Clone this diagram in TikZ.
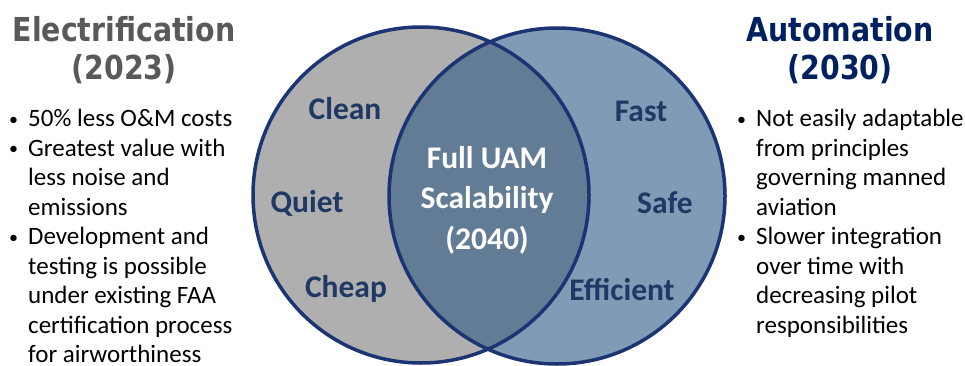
\documentclass[tikz,border=0pt]{standalone}
\usepackage{fontspec}
\setmainfont{Carlito}
\newfontfamily\titlefont[FakeStretch=0.86]{DejaVu Sans}
\usepackage{array}
\definecolor{ringblue}{HTML}{1C3473}
\definecolor{leftfill}{HTML}{AFAFAF}
\definecolor{rightfill}{HTML}{7F9BB6}
\definecolor{midfill}{HTML}{627C96}
\definecolor{navytext}{HTML}{1F3864}
\definecolor{titlegray}{HTML}{595959}
\definecolor{titlenavy}{HTML}{002060}
\newcommand{\dotmark}{\raisebox{0.15ex}{\fontsize{18}{18}\selectfont\textbullet}}
\tikzset{
  ring/.style={circle, minimum size=336pt, inner sep=0pt, outer sep=0pt},
  heading/.style={anchor=base, font=\titlefont\bfseries\fontsize{33}{36}\selectfont, inner sep=0pt},
  trait/.style={anchor=base, font=\bfseries\fontsize{31.5}{34}\selectfont, text=navytext, inner sep=0pt},
  centre/.style={anchor=base, font=\bfseries\fontsize{31.5}{34}\selectfont, text=white, inner sep=0pt},
  bullets/.style={anchor=north west, inner sep=0pt, font=\fontsize{25}{29.5}\selectfont, text=black}
}
\begin{document}
\begin{tikzpicture}[x=1pt,y=-1pt]
\useasboundingbox (0,0) rectangle (965,366);

% the two sets
\node[ring, fill=leftfill] (L) at (421,195) {};
\node[ring, fill=rightfill] (R) at (557,196) {};
\begin{scope}
  \clip (L.center) circle (168pt);
  \fill[midfill] (R.center) circle (168pt);
\end{scope}
\draw[ringblue, line width=3.5pt] (L.center) circle (168pt);
\draw[ringblue, line width=3.5pt] (R.center) circle (168pt);

% headings
\node[heading, text=titlegray] (eh) at (124,42) {Electrification};
\node[heading, text=titlegray] (ey) at (124,80) {(2023)};
\node[heading, text=titlenavy] (ah) at (840,42) {Automation};
\node[heading, text=titlenavy] (ay) at (840,80) {(2030)};

% traits of each set
\node[trait] (clean) at (345,120) {Clean};
\node[trait] (quiet) at (307,212) {Quiet};
\node[trait] (cheap) at (346,297) {Cheap};
\node[trait] (fast) at (641,122) {Fast};
\node[trait] (safe) at (665,213) {Safe};
\node[trait] (eff) at (622,300) {Efficient};

% shared centre
\node[centre] (c1) at (487,168) {Full UAM};
\node[centre] (c2) at (487,208) {Scalability};
\node[centre] (c3) at (487,249) {(2040)};

% bullet lists
\node[bullets] (elist) at (9,106) {%
\begin{tabular}{@{}p{19pt}@{}l@{}}
\dotmark & 50\% less O\&M costs\\
\dotmark & Greatest value with\\
 & less noise and\\
 & emissions\\
\dotmark & Development and\\
 & testing is possible\\
 & under existing FAA\\
 & certification process\\
 & for airworthiness
\end{tabular}};
\node[bullets] (alist) at (737,106) {%
\begin{tabular}{@{}p{19pt}@{}l@{}}
\dotmark & Not easily adaptable\\
 & from principles\\
 & governing manned\\
 & aviation\\
\dotmark & Slower integration\\
 & over time with\\
 & decreasing pilot\\
 & responsibilities
\end{tabular}};
\end{tikzpicture}
\end{document}
